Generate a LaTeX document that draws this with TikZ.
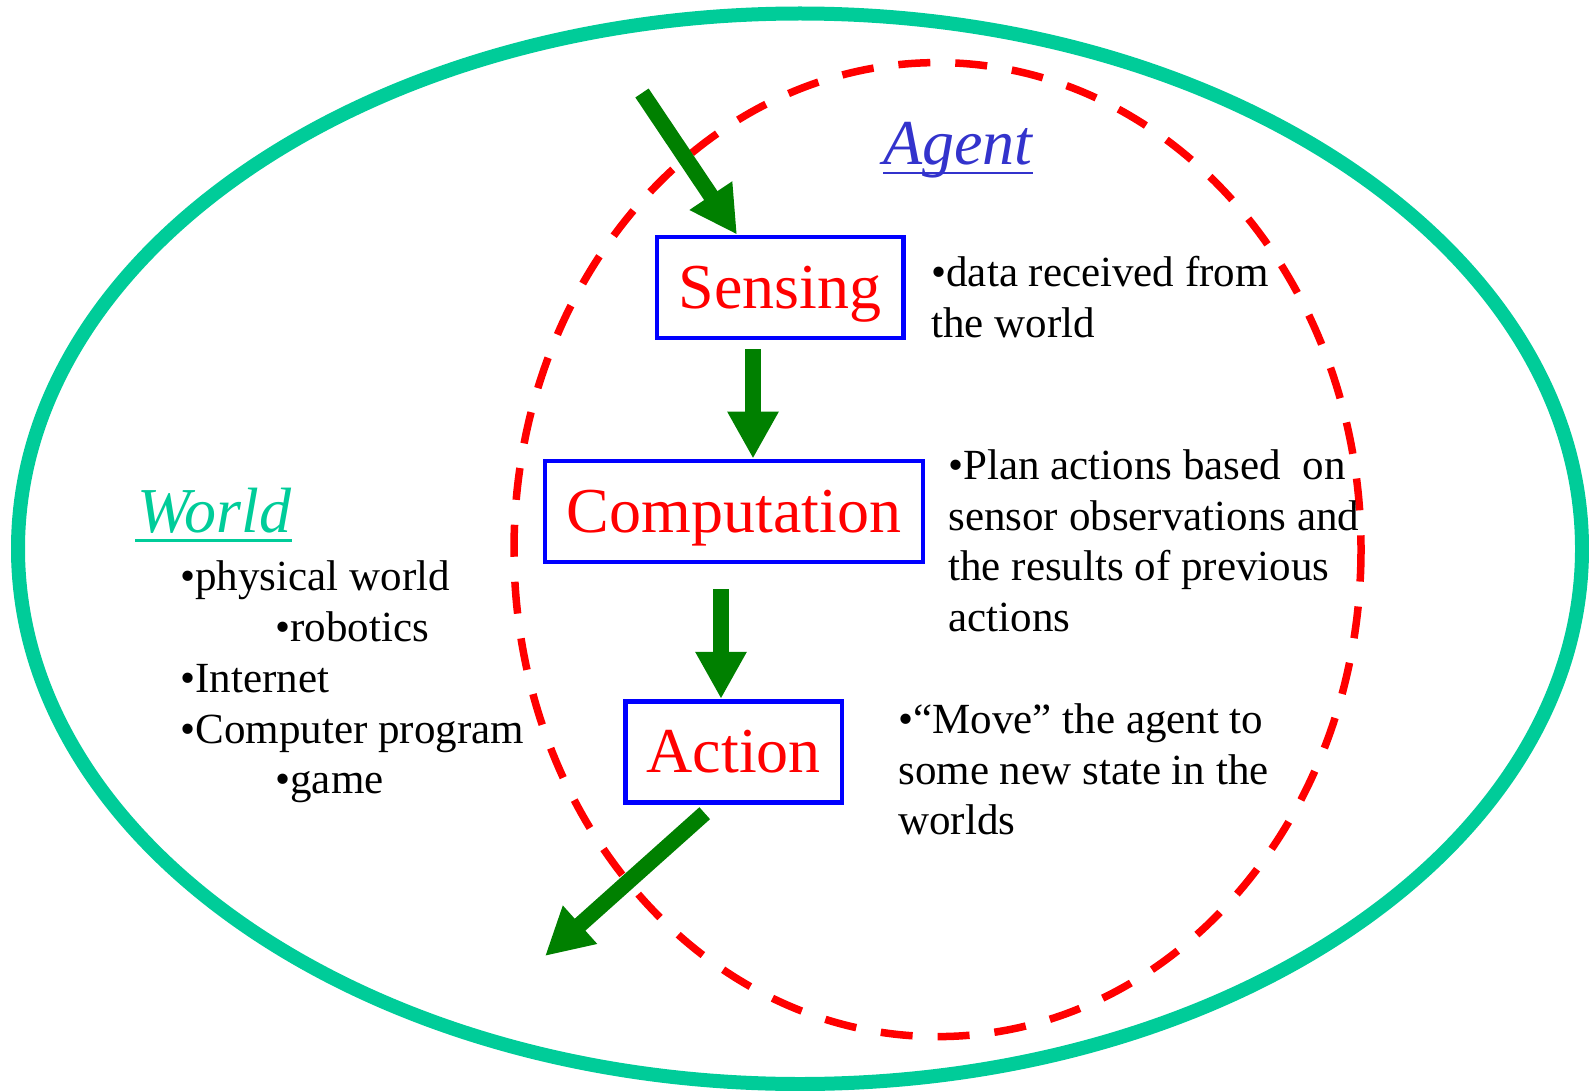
\documentclass[tikz,border=0pt]{standalone}
\usepackage{fontspec}
\setmainfont{Liberation Serif}
\usetikzlibrary{arrows.meta}
\definecolor{worldgreen}{RGB}{0,204,153}
\definecolor{agentblue}{RGB}{51,51,204}
\definecolor{arrowgreen}{RGB}{0,128,0}
\begin{document}
\begin{tikzpicture}[x=0.5pt,y=-0.5pt,
  boxnode/.style={draw=blue, line width=2.35pt, text=red, font=\fontsize{32pt}{38pt}\selectfont, text height=21.1pt, text depth=0pt, inner sep=0pt, minimum height=50.5pt},
  bigarrow/.style={draw=arrowgreen, line width=8pt, -{Triangle[length=23.5pt,width=24pt]}},
  desc/.style={anchor=base west, inner sep=0pt, font=\fontsize{21.5pt}{25.4pt}\selectfont, text=black},
  titletext/.style={anchor=base west, inner sep=0pt, font=\fontsize{32pt}{38pt}\selectfont\itshape}]
\useasboundingbox (0,0) rectangle (1589,1091);
% world and agent outlines
\draw[worldgreen, line width=7pt] (800,548.75) ellipse [x radius=782, y radius=535.25];
\draw[red, line width=3.75pt, dash pattern=on 16pt off 12.5pt] (937.5,549.6) ellipse [x radius=423.5, y radius=487];
% boxes
\node[boxnode, minimum width=123.25pt] (sense) at (780.25,287.5) {Sensing};
\node[boxnode, minimum width=189pt] (comp) at (734,511.5) {Computation};
\node[boxnode, minimum width=108.25pt] (act) at (733.75,751.75) {Action};
% titles
\node[titletext, text=agentblue] (agent) at (883,165) {Agent};
\draw[agentblue, line width=1.35pt] ([yshift=-4pt]agent.base west) -- ([yshift=-4pt]agent.base east);
\node[titletext, text=worldgreen] (world) at (137,532) {World};
\draw[worldgreen, line width=1.65pt] ([xshift=-1pt,yshift=-4.4pt]world.base west) -- ([yshift=-4.4pt]world.base east);
% descriptions
\node[desc] (sensedesc) at (931,286.7) {\parbox[t]{240pt}{\raggedright •data received from\\the world}};
\node[desc] (compdesc) at (948,479.3) {\parbox[t]{240pt}{\raggedright •Plan actions based\ \ on\\sensor observations and\\the results of previous\\actions}};
\node[desc] (actdesc) at (898,733.3) {\parbox[t]{240pt}{\raggedright •“Move” the agent to\\some new state in the\\worlds}};
\node[desc] (worlddesc) at (180,590.7) {\parbox[t]{240pt}{\raggedright •physical world\\\hspace*{47.5pt}•robotics\\•Internet\\•Computer program\\\hspace*{47.5pt}•game}};
% arrows
\coordinate (a1s) at (642,93);
\coordinate (a1x) at (737,0);
\draw[bigarrow] (a1s) -- (sense.north -| a1x);
\coordinate (a2s) at (753,349);
\draw[bigarrow] (a2s) -- (a2s |- comp.north);
\coordinate (a3s) at (721,589);
\draw[bigarrow] (a3s) -- (a3s |- act.north);
\coordinate (a4s) at (704.7,813.2);
\coordinate (a4e) at (545,956);
\draw[bigarrow] (a4s) -- (a4e);
\end{tikzpicture}
\end{document}
